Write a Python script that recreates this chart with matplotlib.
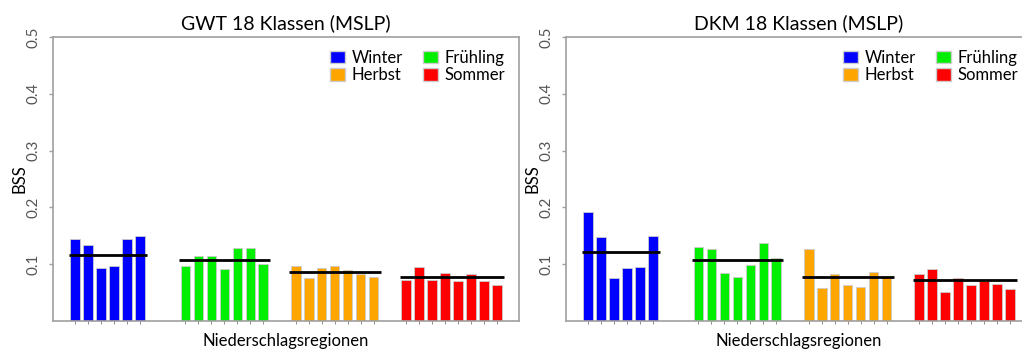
import numpy as np
import matplotlib
matplotlib.use("Agg")
import matplotlib.pyplot as plt
from matplotlib.patches import Patch

plt.rcParams['font.family'] = ['Lato', 'DejaVu Sans']

seasons = ['Winter', 'Frühling', 'Herbst', 'Sommer']
colors = ['#0000ff', '#00ee00', '#ffa500', '#ff0000']

# BSS je Niederschlagsregion, GWT
gwt_winter = [0.144, 0.133, 0.093, 0.097, 0.144, 0.150]
gwt_fruehling = [0.097, 0.115, 0.115, 0.091, 0.129, 0.129, 0.100]
gwt_herbst = [0.097, 0.075, 0.093, 0.097, 0.090, 0.082, 0.078]
gwt_sommer = [0.072, 0.095, 0.072, 0.084, 0.071, 0.083, 0.070, 0.064]
gwt_lines = [0.117, 0.108, 0.086, 0.077]

# BSS je Niederschlagsregion, DKM
dkm_winter = [0.192, 0.148, 0.075, 0.094, 0.095, 0.149]
dkm_fruehling = [0.131, 0.127, 0.084, 0.078, 0.098, 0.138, 0.111]
dkm_herbst = [0.127, 0.058, 0.082, 0.064, 0.059, 0.087, 0.077]
dkm_sommer = [0.082, 0.091, 0.051, 0.076, 0.063, 0.071, 0.065, 0.056]
dkm_lines = [0.122, 0.108, 0.077, 0.073]

panels = [
    ("GWT 18 Klassen (MSLP)", [gwt_winter, gwt_fruehling, gwt_herbst, gwt_sommer], gwt_lines),
    ("DKM 18 Klassen (MSLP)", [dkm_winter, dkm_fruehling, dkm_herbst, dkm_sommer], dkm_lines),
]

fig = plt.figure(figsize=(10.22, 3.52), dpi=100)
lefts = [53 / 1022, 566 / 1022]
axw = 466 / 1022
bottom = 1 - 321 / 352
axh = (321 - 37) / 352

group_step = 8.5
grey = '#a0a0a0'

for left, (title, groups, lines) in zip(lefts, panels):
    ax = fig.add_axes([left, bottom, axw, axh])
    all_x = []
    for g, (vals, col, lv) in enumerate(zip(groups, colors, lines)):
        x = g * group_step + np.arange(len(vals))
        all_x.extend(x)
        ax.bar(x, vals, width=0.74, color=col, edgecolor='#cccccc', linewidth=0.6, zorder=2)
        ax.plot([x[0] - 0.5, x[-1] + 0.55], [lv, lv], color='black', lw=2, zorder=3,
                solid_capstyle='butt')
    ax.set_xlim(min(all_x) - 1.7, max(all_x) + 1.7)
    ax.set_ylim(0, 0.5)
    ax.set_xticks(all_x)
    ax.set_xticklabels([])
    ax.set_yticks([0.1, 0.2, 0.3, 0.4, 0.5])
    ax.set_yticklabels(['0.1', '0.2', '0.3', '0.4', '0.5'], rotation=90, va='center',
                       fontsize=11, color='#555555')
    ax.tick_params(axis='x', length=2, width=0.6, color='#777777')
    ax.tick_params(axis='y', length=3, width=1, color=grey, pad=6)
    for s in ax.spines.values():
        s.set_color(grey)
        s.set_linewidth(1.2)
    ax.set_title(title, fontsize=14, pad=6)
    ax.set_ylabel('BSS', fontsize=12, labelpad=-1)
    ax.set_xlabel('Niederschlagsregionen', fontsize=12, labelpad=3)

    handles = [Patch(facecolor=colors[i], edgecolor='#cccccc', label=seasons[i]) for i in [0, 2, 1, 3]]
    ax.legend(handles=handles, ncol=2, frameon=False, loc='upper right',
              bbox_to_anchor=(1.002, 1.008), fontsize=12, handlelength=0.9, handleheight=0.8,
              handletextpad=0.4, columnspacing=1.2, labelspacing=0.1, borderaxespad=0.5)

fig.savefig('out.png', dpi=100)
